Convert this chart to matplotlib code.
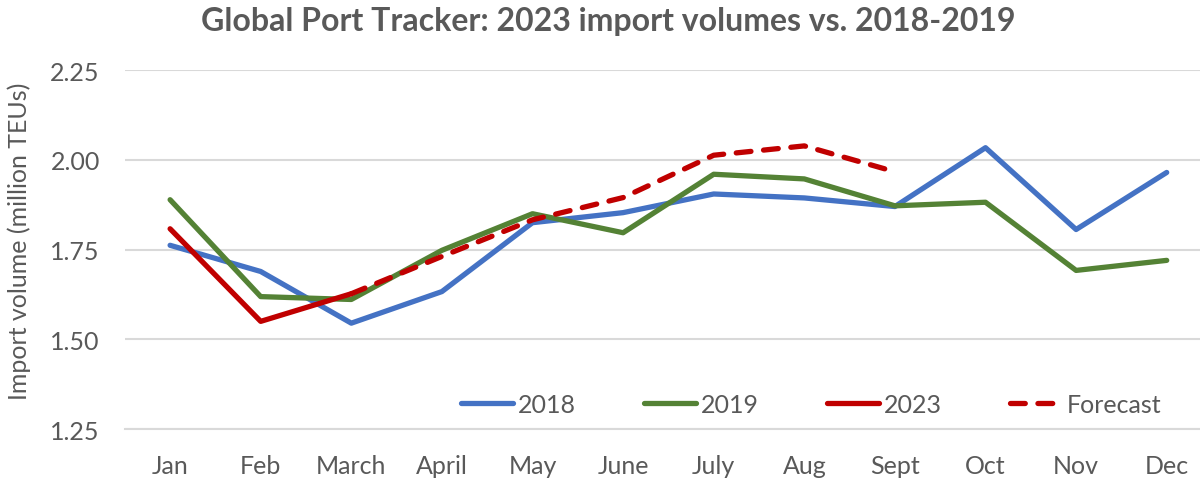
import matplotlib.pyplot as plt
import numpy as np

months = ['Jan', 'Feb', 'March', 'April', 'May', 'June', 'July', 'Aug',
          'Sept', 'Oct', 'Nov', 'Dec']
y2018 = [1.762, 1.689, 1.545, 1.633, 1.825, 1.853, 1.905, 1.894, 1.870,
         2.034, 1.806, 1.965]
y2019 = [1.889, 1.619, 1.611, 1.748, 1.850, 1.797, 1.960, 1.947, 1.872,
         1.882, 1.692, 1.720]
y2023 = [1.808, 1.550, 1.627]
forecast = [np.nan, np.nan, 1.627, 1.731, 1.833, 1.895, 2.013, 2.039, 1.967]

plt.rcParams['font.family'] = ['Lato', 'DejaVu Sans']
grey = '#595959'
fs = 18

fig = plt.figure(figsize=(12, 4.81), dpi=100)
ax = fig.add_axes([0.104, 0.106, 0.906, 0.746])

x = np.arange(len(months))
lw = 3.8
ax.plot(x, y2018, color='#4472C4', lw=lw, label='2018', solid_capstyle='round')
ax.plot(x, y2019, color='#548235', lw=lw, label='2019', solid_capstyle='round')
ax.plot(x[:len(y2023)], y2023, color='#C00000', lw=lw, label='2023',
        solid_capstyle='round')
ax.plot(x[:len(forecast)], forecast, color='#C00000', lw=lw, ls=(0, (2.8, 2.4)),
        label='Forecast', dash_capstyle='round')

ax.set_xlim(-0.5, 11.5)
ax.set_ylim(1.25, 2.25)
ax.set_yticks([1.25, 1.50, 1.75, 2.00, 2.25])
ax.set_yticklabels(['1.25', '1.50', '1.75', '2.00', '2.25'])
ax.set_xticks(x)
ax.set_xticklabels(months)
ax.tick_params(length=0, labelsize=fs, colors=grey)
ax.tick_params(axis='x', pad=18)
ax.tick_params(axis='y', pad=18)
ax.grid(axis='y', color='#D9D9D9', lw=1.5)
ax.set_axisbelow(True)
for s in ['top', 'right', 'left']:
    ax.spines[s].set_visible(False)
ax.spines['bottom'].set_color('#D9D9D9')
ax.spines['bottom'].set_linewidth(1.5)

fig.text(0.507, 0.955, 'Global Port Tracker: 2023 import volumes vs. 2018-2019',
         ha='center', va='center', fontsize=23, fontweight='bold', color=grey)
fig.text(0.016, 0.498, 'Import volume (million TEUs)', rotation=90,
         ha='center', va='center', fontsize=fs, color=grey)

leg = fig.legend(loc='center', bbox_to_anchor=(0.676, 0.158), ncol=4,
                 frameon=False, fontsize=fs, handlelength=2.1,
                 handletextpad=0.2, columnspacing=2.7)
for t in leg.get_texts():
    t.set_color(grey)

fig.savefig('out.png', dpi=100)
